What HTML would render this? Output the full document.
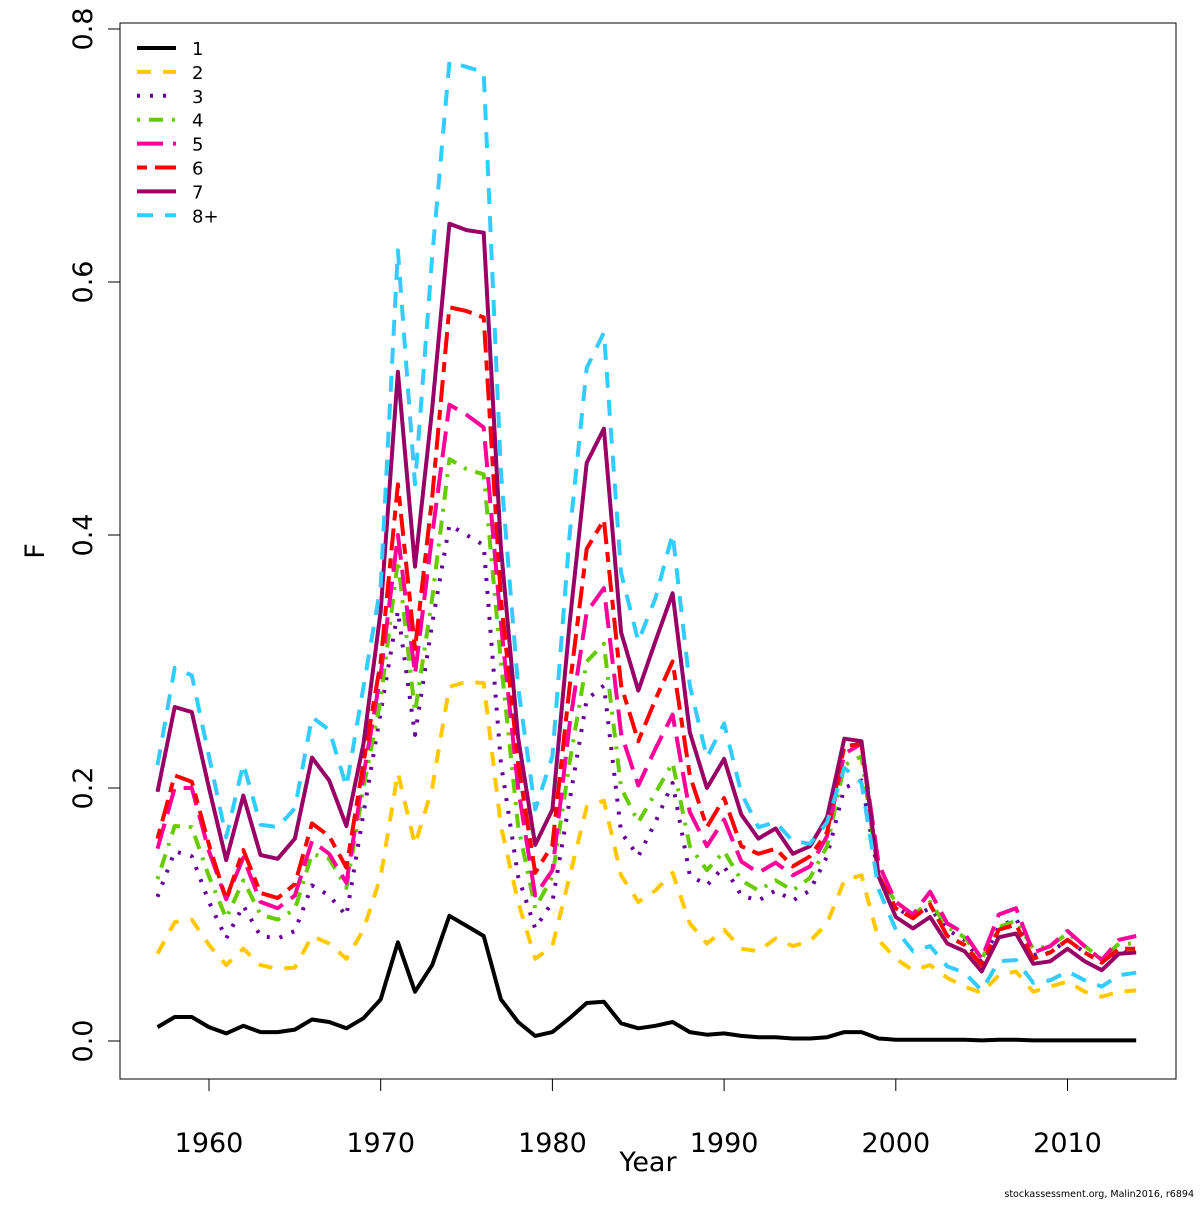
<!DOCTYPE html>
<html><head><meta charset="utf-8"><style>
body{margin:0;background:#fff}
svg text{font-family:"DejaVu Sans","Liberation Sans",sans-serif;fill:#000}
</style></head><body>
<svg id="chart" width="1200" height="1200" xmlns="http://www.w3.org/2000/svg">
<rect x="0" y="0" width="1200" height="1200" fill="#fff"/>
<rect x="120" y="23" width="1056" height="1056" fill="none" stroke="#000" stroke-width="1"/>
<g id="axes"></g><g id="series"></g><g id="legend"></g>
<text x="648" y="1171" font-size="27" text-anchor="middle">Year</text>
<text x="44" y="551" font-size="27" text-anchor="middle" transform="rotate(-90 44 551)">F</text>
<text x="1194" y="1197" font-size="9.5" text-anchor="end">stockassessment.org, Malin2016, r6894</text>
</svg>
<script>
const years = [];
for (let y = 1957; y <= 2014; y++) years.push(y);
const seriesNames = ["1","2","3","4","5","6","7","8+"];
const age1 = [0.011,0.019,0.019,0.011,0.006,0.012,0.007,0.007,0.009,0.017,0.015,0.010,0.018,0.033,0.078,0.039,0.060,0.099,0.091,0.083,0.033,0.015,0.004,0.007,0.018,0.030,0.031,0.014,0.010,0.012,0.015,0.007,0.005,0.006,0.004,0.003,0.003,0.002,0.002,0.003,0.007,0.007,0.002,0.001,0.001,0.001,0.001,0.001,0.0005,0.001,0.001,0.0005,0.0005,0.0005,0.0005,0.0005,0.0005,0.0005];
const age2 = [0.069,0.094,0.096,0.076,0.060,0.073,0.060,0.057,0.058,0.083,0.077,0.065,0.088,0.130,0.212,0.155,0.200,0.280,0.284,0.283,0.170,0.110,0.065,0.075,0.130,0.185,0.190,0.131,0.110,0.119,0.133,0.093,0.077,0.088,0.073,0.071,0.081,0.075,0.079,0.093,0.127,0.131,0.080,0.065,0.056,0.060,0.050,0.043,0.038,0.052,0.055,0.039,0.043,0.047,0.039,0.035,0.039,0.040];
const age3 = [0.114,0.150,0.146,0.110,0.081,0.107,0.083,0.081,0.087,0.123,0.115,0.099,0.180,0.260,0.340,0.242,0.330,0.408,0.400,0.392,0.220,0.130,0.089,0.110,0.190,0.270,0.281,0.165,0.146,0.173,0.204,0.131,0.123,0.138,0.115,0.111,0.119,0.111,0.119,0.146,0.200,0.206,0.130,0.105,0.098,0.105,0.088,0.080,0.062,0.090,0.097,0.068,0.070,0.080,0.070,0.062,0.070,0.070];
const age4 = [0.128,0.170,0.169,0.130,0.097,0.127,0.100,0.096,0.104,0.148,0.144,0.121,0.200,0.270,0.380,0.260,0.350,0.460,0.452,0.448,0.300,0.170,0.105,0.130,0.220,0.300,0.314,0.200,0.173,0.196,0.220,0.154,0.135,0.150,0.127,0.119,0.127,0.119,0.129,0.154,0.218,0.225,0.130,0.110,0.100,0.110,0.090,0.082,0.065,0.090,0.095,0.073,0.075,0.085,0.075,0.065,0.077,0.077];
const age5 = [0.152,0.200,0.200,0.150,0.112,0.145,0.110,0.105,0.115,0.158,0.148,0.125,0.210,0.290,0.400,0.290,0.400,0.503,0.495,0.485,0.330,0.200,0.115,0.135,0.250,0.339,0.358,0.243,0.202,0.231,0.258,0.181,0.154,0.175,0.142,0.133,0.141,0.131,0.138,0.162,0.227,0.235,0.140,0.110,0.100,0.118,0.093,0.085,0.065,0.100,0.105,0.070,0.075,0.087,0.075,0.064,0.080,0.083];
const age6 = [0.160,0.210,0.205,0.155,0.112,0.151,0.117,0.113,0.124,0.172,0.162,0.137,0.220,0.300,0.440,0.310,0.430,0.580,0.577,0.572,0.350,0.220,0.133,0.155,0.280,0.389,0.412,0.281,0.237,0.270,0.300,0.210,0.169,0.192,0.154,0.148,0.152,0.138,0.146,0.165,0.233,0.235,0.131,0.105,0.097,0.108,0.083,0.076,0.060,0.088,0.092,0.065,0.070,0.080,0.070,0.062,0.073,0.073];
const age7 = [0.197,0.264,0.260,0.200,0.143,0.194,0.147,0.144,0.160,0.224,0.206,0.170,0.235,0.340,0.529,0.375,0.500,0.646,0.641,0.639,0.390,0.240,0.155,0.183,0.330,0.457,0.484,0.323,0.277,0.316,0.354,0.244,0.200,0.223,0.179,0.160,0.168,0.148,0.154,0.177,0.239,0.237,0.130,0.098,0.089,0.098,0.077,0.071,0.055,0.082,0.085,0.061,0.063,0.073,0.063,0.056,0.069,0.070];
const age8 = [0.218,0.295,0.289,0.225,0.161,0.219,0.171,0.169,0.184,0.256,0.246,0.201,0.280,0.360,0.625,0.440,0.620,0.774,0.770,0.766,0.450,0.280,0.183,0.225,0.400,0.532,0.560,0.370,0.316,0.350,0.401,0.281,0.224,0.251,0.196,0.169,0.173,0.158,0.156,0.173,0.216,0.204,0.120,0.088,0.071,0.075,0.059,0.054,0.040,0.063,0.064,0.046,0.048,0.055,0.048,0.043,0.052,0.054];
const xTicks = [1960,1970,1980,1990,2000,2010];
const yTicks = [0,0.2,0.4,0.6,0.8];
const yTickLabels = ["0.0","0.2","0.4","0.6","0.8"];

const NS = "http://www.w3.org/2000/svg";
const xScale = y => 209 + (y - 1960) * 17.17;
const yScale = v => 1041 - v * 1265;
function mk(tag, attrs, parent){const e=document.createElementNS(NS,tag);for(const k in attrs)e.setAttribute(k,attrs[k]);parent.appendChild(e);return e;}

const axes = document.getElementById('axes');
const xax = mk('line',{x1:xScale(1960),x2:xScale(2010),y1:1079,y2:1079,stroke:'#000'},axes);


xTicks.forEach(t=>{
  const l=mk('line',{x1:xScale(t),x2:xScale(t),y1:1079,y2:1091,stroke:'#000'},axes);
  
  
  const tx=mk('text',{x:xScale(t),y:1152,'font-size':27,'text-anchor':'middle'},axes);
  tx.textContent=t;
  
  
});
const yax = mk('line',{x1:120,x2:120,y1:yScale(0),y2:yScale(0.8),stroke:'#000'},axes);


yTicks.forEach((t,i)=>{
  const y=yScale(t);
  const l=mk('line',{x1:108,x2:120,y1:y,y2:y,stroke:'#000'},axes);
  
  
  const tx=mk('text',{x:92,y:y,'font-size':27,'text-anchor':'middle',transform:`rotate(-90 92 ${y})`},axes);
  tx.textContent=yTickLabels[i];
  
  
});

const allSeries=[age1,age2,age3,age4,age5,age6,age7,age8];
const colors=["#000000","#FFC800","#660099","#66CC00","#FF0099","#FF0000","#990066","#33CCFF"];
const dashes=["none","14,12","3,10","3,9,14,9","26,10","10,8,22,8","none","16,12"];
const sg=document.getElementById('series');
allSeries.forEach((vals,i)=>{
  const pts=vals.map((v,j)=>xScale(years[j]).toFixed(1)+','+yScale(v).toFixed(1)).join(' ');
  const p=mk('polyline',{points:pts,fill:'none',stroke:colors[i],'stroke-width':4,'stroke-dasharray':dashes[i],'stroke-linejoin':'round'},sg);
  
  
});
const lg=document.getElementById('legend');
seriesNames.forEach((n,i)=>{
  const y=48+i*23.9;
  const g=mk('g',{},lg);
  
  
  mk('line',{x1:137,x2:176,y1:y,y2:y,stroke:colors[i],'stroke-width':4,'stroke-dasharray':dashes[i]},g);
  const t=mk('text',{x:192,y:y+7,'font-size':18},g);
  t.textContent=n;
});
</script>
</body></html>
